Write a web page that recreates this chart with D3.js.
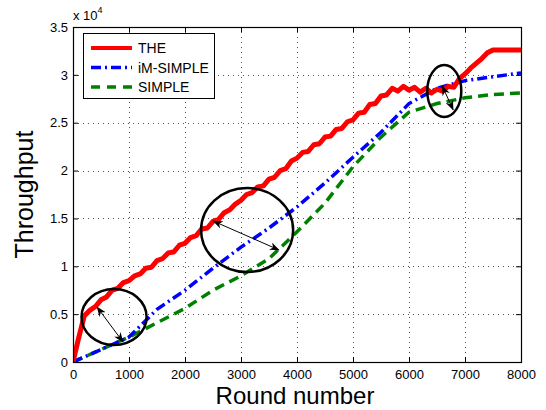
<!DOCTYPE html>
<html>
<head>
<meta charset="utf-8">
<script src="https://cdn.jsdelivr.net/npm/d3@7"></script>
<style>
  body { margin: 0; background: #fff; }
  svg { font-family: "Liberation Sans", Arial, Helvetica, sans-serif; }
</style>
</head>
<body>
<div id="chart"><svg id="plot"></svg></div>
<script>
// [round, throughput]
const theData = [
  [0,0],[100,2500],[200,4800],[300,5400],[400,5800],[500,6500],[600,6800],[700,7500],[800,7700],[900,8300],
  [1000,8500],[1100,9000],[1200,9200],[1300,9800],[1400,9900],[1500,10600],[1600,10800],[1700,11400],[1800,11500],[1900,12200],
  [2000,12400],[2100,13000],[2200,13200],[2300,13900],[2400,14000],[2500,14700],[2600,14900],[2700,15600],[2800,15900],[2900,16500],
  [3000,16900],[3100,17500],[3200,17700],[3300,18300],[3400,18400],[3500,19100],[3600,19300],[3700,20000],[3800,20200],[3900,21000],
  [4000,21300],[4100,21900],[4200,22000],[4300,22700],[4400,22800],[4500,23500],[4600,23600],[4700,24300],[4800,24400],[4900,25100],
  [5000,25300],[5100,26000],[5200,26100],[5300,26900],[5400,27000],[5500,27800],[5600,27900],[5700,28600],[5800,28300],[5900,28800],
  [6000,28400],[6100,28700],[6200,28200],[6300,28600],[6400,28100],[6500,28500],[6600,28300],[6700,28800],[6800,28700],[6900,29600],
  [7000,30100],[7100,30700],[7200,31200],[7300,31700],[7400,32300],[7500,32600],[8000,32600]
];

const imSimpleData = [
  [0,0],[500,1300],[1000,2600],[1500,5500],[2000,7500],[2500,9800],[3000,12000],[3500,14000],[4000,16200],
  [4500,18700],[5000,21400],[5500,24000],[6000,27000],[6500,28600],[7000,29400],[7500,29800],[8000,30200]
];

const simpleData = [
  [0,0],[500,1300],[1000,2600],[1500,4100],[2000,5600],[2500,7500],[3000,9000],[3500,10800],[4000,13600],
  [4500,16600],[5000,20400],[5500,23500],[6000,26100],[6500,27000],[7000,27600],[7500,27950],[8000,28100]
];

const xTicks = [0,1000,2000,3000,4000,5000,6000,7000,8000];
const yTicks = [0,5000,10000,15000,20000,25000,30000,35000];
const seriesNames = ['THE', 'iM-SIMPLE', 'SIMPLE'];

// annotations: ellipses [cx, cy, rx, ry] and double arrows [x1, y1, x2, y2], in data units
const ellipses = [
  [733, 4700, 581, 2925],
  [3109, 13790, 822, 4390],
  [6630, 28310, 304, 2716]
];
const arrows = [
  [429, 5750, 893, 2090],
  [2502, 14730, 3681, 11700],
  [6594, 28840, 6790, 26330]
];

const margin = {top: 27, right: 25, bottom: 48, left: 73};
const width = 546 - margin.left - margin.right;
const height = 410 - margin.top - margin.bottom;

const root = d3.select('#plot').attr('width', 546).attr('height', 410);

const defs = root.append('defs');
defs.append('clipPath').attr('id', 'clip')
  .append('rect').attr('width', width).attr('height', height);
defs.append('marker')
  .attr('id', 'head')
  .attr('markerUnits', 'userSpaceOnUse')
  .attr('viewBox', '0 0 10 8')
  .attr('markerWidth', 10).attr('markerHeight', 8)
  .attr('refX', 9.5).attr('refY', 4)
  .attr('orient', 'auto-start-reverse')
  .append('path').attr('d', 'M0,0 L10,4 L0,8 L3,4 Z').attr('fill', '#000');

const svg = root.append('g')
  .attr('transform', 'translate(' + margin.left + ',' + margin.top + ')');

const x = d3.scaleLinear().domain([0, 8000]).range([0, width]);
const y = d3.scaleLinear().domain([0, 35000]).range([height, 0]);

// grid
svg.append('g').selectAll('line')
  .data(xTicks.slice(1, -1)).join('line')
  .attr('x1', d => Math.round(x(d)) + 0.5).attr('x2', d => Math.round(x(d)) + 0.5)
  .attr('y1', 0).attr('y2', height)
  .attr('stroke', '#555').attr('stroke-dasharray', '1,4');
svg.append('g').selectAll('line')
  .data(yTicks.slice(1, -1)).join('line')
  .attr('y1', d => Math.round(y(d)) + 0.5).attr('y2', d => Math.round(y(d)) + 0.5)
  .attr('x1', 0).attr('x2', width)
  .attr('stroke', '#555').attr('stroke-dasharray', '1,4');

// lines
const line = d3.line().x(d => x(d[0])).y(d => y(d[1]));
const plot = svg.append('g').attr('clip-path', 'url(#clip)');

plot.append('path').datum(simpleData)
  .attr('fill', 'none').attr('stroke', '#008000').attr('stroke-width', 3.5)
  .attr('stroke-dasharray', '10,6').attr('d', line);
plot.append('path').datum(imSimpleData)
  .attr('fill', 'none').attr('stroke', '#0000ff').attr('stroke-width', 3.5)
  .attr('stroke-dasharray', '10,4,2,4').attr('d', line);
plot.append('path').datum(theData)
  .attr('fill', 'none').attr('stroke', '#ff0000').attr('stroke-width', 5)
  .attr('stroke-linejoin', 'round').attr('d', line);

// annotations
svg.append('g').selectAll('ellipse')
  .data(ellipses).join('ellipse')
  .attr('cx', d => x(d[0])).attr('cy', d => y(d[1]))
  .attr('rx', d => x(d[2]) - x(0)).attr('ry', d => y(0) - y(d[3]))
  .attr('fill', 'none').attr('stroke', '#000').attr('stroke-width', 2.5);
svg.append('g').selectAll('line')
  .data(arrows).join('line')
  .attr('x1', d => x(d[0])).attr('y1', d => y(d[1]))
  .attr('x2', d => x(d[2])).attr('y2', d => y(d[3]))
  .attr('stroke', '#000').attr('stroke-width', 1)
  .attr('marker-start', 'url(#head)').attr('marker-end', 'url(#head)');

// axes (inward ticks on all four sides)
svg.append('g')
  .attr('transform', 'translate(0,' + height + ')')
  .call(d3.axisBottom(x).tickValues(xTicks).tickSize(-5).tickPadding(8).tickFormat(d3.format('d')));
svg.append('g')
  .call(d3.axisLeft(y).tickValues(yTicks).tickSize(-5).tickPadding(5).tickFormat(d => d / 10000));
svg.append('g')
  .call(d3.axisTop(x).tickValues(xTicks).tickSize(-5).tickFormat(''));
svg.append('g')
  .attr('transform', 'translate(' + width + ',0)')
  .call(d3.axisRight(y).tickValues(yTicks).tickSize(-5).tickFormat(''));

svg.selectAll('.domain').remove();
svg.selectAll('.tick line').attr('stroke', '#000');
svg.selectAll('.tick text').attr('font-size', 13).attr('fill', '#000')
  .attr('font-family', '"Liberation Sans", Arial, sans-serif');

svg.append('rect')
  .attr('x', 0.5).attr('y', 0.5).attr('width', width).attr('height', height)
  .attr('fill', 'none').attr('stroke', '#000').attr('stroke-width', 1.2);

// exponent label
const expo = svg.append('text').attr('x', 0).attr('y', -7).attr('font-size', 13);
expo.append('tspan').text('x 10');
expo.append('tspan').attr('font-size', 9).attr('dy', -7).text('4');

// axis titles
svg.append('text')
  .attr('x', width / 2 - 2).attr('y', height + 42)
  .attr('text-anchor', 'middle').attr('font-size', 24)
  .text('Round number');
svg.append('text')
  .attr('transform', 'translate(' + (-40) + ',' + (height / 2) + ') rotate(-90)')
  .attr('text-anchor', 'middle').attr('font-size', 25)
  .text('Throughput');

// legend
const legend = svg.append('g').attr('transform', 'translate(10,6)');
legend.append('rect')
  .attr('x', 0.5).attr('y', 0.5).attr('width', 131).attr('height', 65)
  .attr('fill', '#fff').attr('stroke', '#000').attr('stroke-width', 1);
const legStyles = [
  {color: '#ff0000', dash: null, w: 4},
  {color: '#0000ff', dash: '10,4,2,4', w: 3.5},
  {color: '#008000', dash: '9,7', w: 3.5}
];
seriesNames.forEach((name, i) => {
  const yy = 15 + i * 19.5;
  legend.append('line')
    .attr('x1', 8).attr('x2', 49).attr('y1', yy).attr('y2', yy)
    .attr('stroke', legStyles[i].color).attr('stroke-width', legStyles[i].w)
    .attr('stroke-dasharray', legStyles[i].dash);
  legend.append('text')
    .attr('x', 55).attr('y', yy + 5).attr('font-size', 14)
    .text(name);
});
</script>
</body>
</html>
